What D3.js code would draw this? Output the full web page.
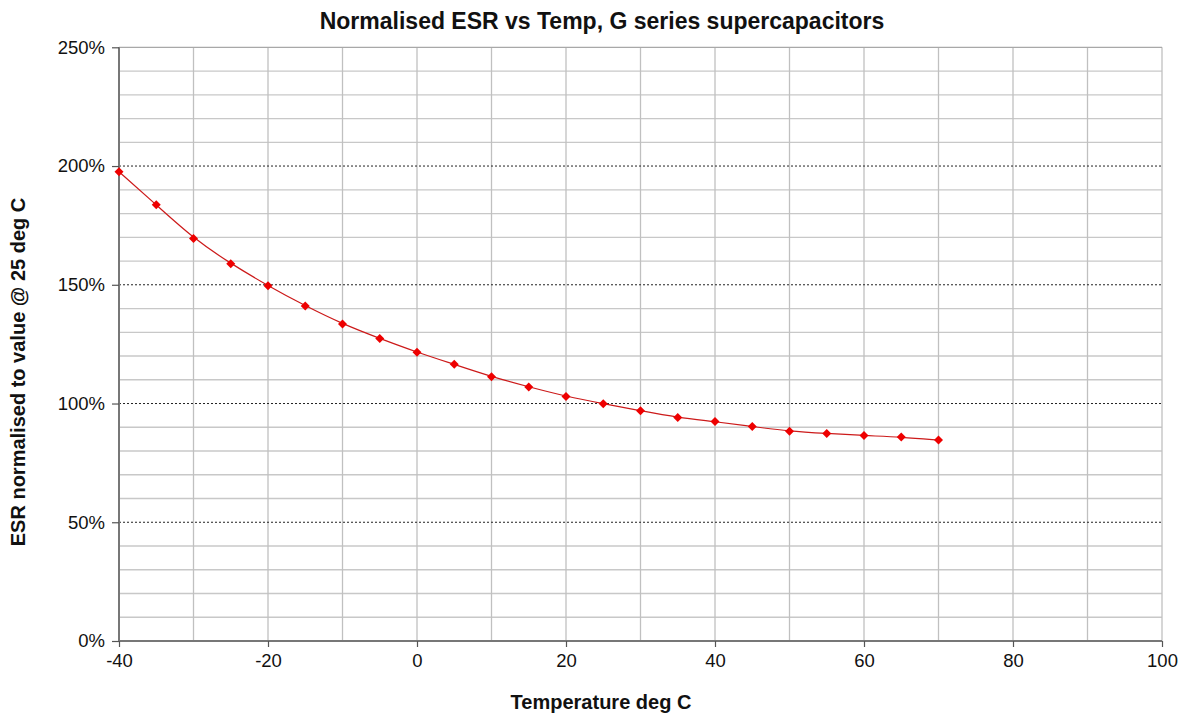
<!DOCTYPE html>
<html><head><meta charset="utf-8">
<script src="https://cdn.jsdelivr.net/npm/d3@7"></script>
<style>body{margin:0;background:#fff}svg{display:block}text{font-family:"Liberation Sans",Arial,sans-serif}</style>
</head><body>
<script>
const temps = [-40,-35,-30,-25,-20,-15,-10,-5,0,5,10,15,20,25,30,35,40,45,50,55,60,65,70];
const esr = [197.6,183.7,169.5,158.9,149.6,141.1,133.5,127.4,121.6,116.5,111.3,107.0,103.0,99.9,97.0,94.1,92.4,90.3,88.3,87.4,86.5,85.9,84.6];
const xTicks = [-40,-20,0,20,40,60,80,100];
const yTicks = [0,50,100,150,200,250];
const title = "Normalised ESR vs Temp, G series supercapacitors";
const xTitle = "Temperature deg C";
const yTitle = "ESR normalised to value @ 25 deg C";

const W=1186,H=713;
const m={l:119,r:1162,t:47.3,b:641};
const svg=d3.select("body").append("svg").attr("width",W).attr("height",H);
const x=d3.scaleLinear().domain([-40,100]).range([m.l,m.r]);
const y=d3.scaleLinear().domain([0,250]).range([m.b,m.t]);

svg.append("g").selectAll("line").data(d3.range(10,250,10).filter(v=>v%50!==0)).join("line")
 .attr("x1",m.l).attr("x2",m.r).attr("y1",d=>y(d)).attr("y2",d=>y(d))
 .attr("stroke","#c8c8c8").attr("stroke-width",1.3);
svg.append("g").selectAll("line").data(d3.range(-30,101,10)).join("line")
 .attr("x1",d=>x(d)).attr("x2",d=>x(d)).attr("y1",m.t).attr("y2",m.b)
 .attr("stroke","#c0c0c0").attr("stroke-width",1.3);
svg.append("line").attr("x1",m.l).attr("x2",m.r).attr("y1",y(250)).attr("y2",y(250)).attr("stroke","#a8a8a8").attr("stroke-width",1.3);
svg.append("g").selectAll("line").data([50,100,150,200]).join("line")
 .attr("x1",m.l).attr("x2",m.r).attr("y1",d=>y(d)).attr("y2",d=>y(d))
 .attr("stroke","#222").attr("stroke-width",1).attr("stroke-dasharray","2,2");

const xAxis=d3.axisBottom(x).tickValues(xTicks).tickSize(6).tickPadding(7).tickFormat(d=>String(d));
const gx=svg.append("g").attr("transform",`translate(0,${m.b})`).call(xAxis);
const yAxis=d3.axisLeft(y).tickValues(yTicks).tickSize(7).tickPadding(7).tickFormat(d=>d+"%");
const gy=svg.append("g").attr("transform",`translate(${m.l},0)`).call(yAxis);
[gx,gy].forEach(g=>{
 g.select(".domain").attr("stroke","#777").attr("stroke-width",2);
 g.selectAll(".tick line").attr("stroke","#555").attr("stroke-width",1.2);
 g.selectAll("text").attr("font-size",18.5).attr("fill","#111").attr("font-family","Liberation Sans, Arial, sans-serif");
});
gx.select(".domain").attr("d",`M${m.l},0H${m.r}`);
gy.select(".domain").attr("d",`M0,${m.b}V${m.t}`);

const line=d3.line().x((d,i)=>x(temps[i])).y(d=>y(d)).curve(d3.curveBasis);
svg.append("path").attr("d",line(esr)).attr("fill","none").attr("stroke","#cc1a1a").attr("stroke-width",1.2);
svg.append("g").selectAll("path").data(esr).join("path")
 .attr("d","M0,-4.5L4.5,0L0,4.5L-4.5,0Z")
 .attr("transform",(d,i)=>`translate(${x(temps[i])},${y(d)})`)
 .attr("fill","#ee0000");

svg.append("text").attr("x",602).attr("y",29).attr("text-anchor","middle").attr("font-size",23).attr("font-weight","bold").attr("fill","#111").text(title);
svg.append("text").attr("x",601).attr("y",709).attr("text-anchor","middle").attr("font-size",20).attr("font-weight","bold").attr("fill","#111").text(xTitle);
svg.append("text").attr("transform",`translate(25,372) rotate(-90)`).attr("text-anchor","middle").attr("font-size",20).attr("font-weight","bold").attr("fill","#111").text(yTitle);
</script>
</body></html>
